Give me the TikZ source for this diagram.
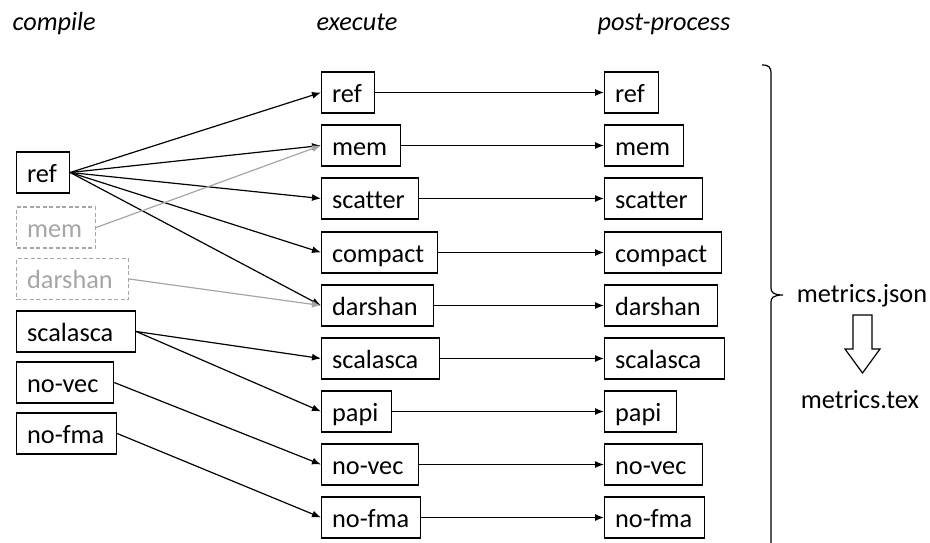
\documentclass[tikz,border=0pt]{standalone}
\usepackage{fontspec}
\setmainfont{Carlito}[Ligatures=NoCommon]
\usetikzlibrary{arrows.meta}
\definecolor{faded}{RGB}{166,166,166}
\tikzset{
  x=1pt, y=-1pt,
  every node/.style={font=\fontsize{26.3pt}{31pt}\selectfont},
  stage/.style={draw, line width=1.2pt, anchor=west, inner xsep=10.5pt, inner ysep=9pt,
                text height=21pt, text depth=2pt, minimum height=41pt, align=left},
  wd/.code={\pgfmathsetlengthmacro\boxtw{#1pt-21pt}\tikzset{text width=\boxtw}},
  optional/.style={stage, draw=faded, text=faded, dash pattern=on 4pt off 2.5pt},
  head/.style={anchor=west, text height=18pt, text depth=5pt,
               font=\fontsize{26.3pt}{31pt}\selectfont\itshape},
  flow/.style={line width=1.2pt, -{Latex[length=9pt,width=7pt]}},
  faint/.style={flow, draw=faded, -{Latex[length=9pt,width=7pt,fill=faded]}}
}
\begin{document}
\begin{tikzpicture}
\useasboundingbox (0,0) rectangle (930,542);

% column headings
\node[head] (hc) at (9,24)   {compile};
\node[head] (he) at (313,24) {execute};
\node[head] (hp) at (594,24) {post-process};

% compile stage
\node[stage,wd=53]     (c-ref) at (16,172.5) {\mbox{ref}};
\node[optional,wd=79]  (c-mem) at (16,227.5) {\mbox{mem}};
\node[optional,wd=112] (c-dar) at (16,279)   {\mbox{darshan}};
\node[stage,wd=119]    (c-sca) at (16,331.5) {\mbox{scalasca}};
\node[stage,wd=97]     (c-vec) at (16,382.5) {\mbox{no-vec}};
\node[stage,wd=100]    (c-fma) at (16,433.5) {\mbox{no-fma}};

% execute and post-process stages
\foreach \n/\t/\we/\wp/\y in
  {ref/ref/53/54/92.5, mem/mem/79/79/145.5, sca/scatter/97/98/198.5,
   com/compact/116/117/252.5, dar/darshan/112/113/305.5, scl/scalasca/118/120/358.5,
   pap/papi/70/72/411.5, vec/no-vec/97/98/464.5, fma/no-fma/99/100/517.5}{
  \node[stage,wd=\we] (e-\n) at (321,\y) {\mbox{\t}};
  \node[stage,wd=\wp] (p-\n) at (604,\y) {\mbox{\t}};
  \draw[flow] (e-\n.east) -- (p-\n.west);
}

% compile -> execute
\foreach \t in {ref,mem,sca,com,dar}
  \draw[flow] (c-ref.east) -- (e-\t.west);
\draw[faint] (c-mem.east) -- (e-mem.west);
\draw[faint] (c-dar.east) -- (e-dar.west);
\draw[flow] (c-sca.east) -- (e-scl.west);
\draw[flow] (c-sca.east) -- (e-pap.west);
\draw[flow] (c-vec.east) -- (e-vec.west);
\draw[flow] (c-fma.east) -- (e-fma.west);

% brace collecting the post-processed results
\coordinate (b-top) at (762,65);
\coordinate (b-tip) at (783,295);
\coordinate (b-end) at (771,548);
\draw[line width=1.2pt]
  (b-top) .. controls (769,65) and (771,67) .. (771,74) -- (771,288)
  .. controls (771,292) and (773,295) .. (b-tip)
  .. controls (773,295) and (771,298) .. (771,302) -- (b-end);

\node (json) at (862,296) {metrics.json};
\node (tex)  at (860,400) {metrics.tex};

% hollow conversion arrow
\draw[line width=1.2pt, line join=miter]
  (853,315) -- (872,315) -- (872,349) -- (880,349) -- (862.5,373)
  -- (845,349) -- (853,349) -- cycle;
\end{tikzpicture}
\end{document}
